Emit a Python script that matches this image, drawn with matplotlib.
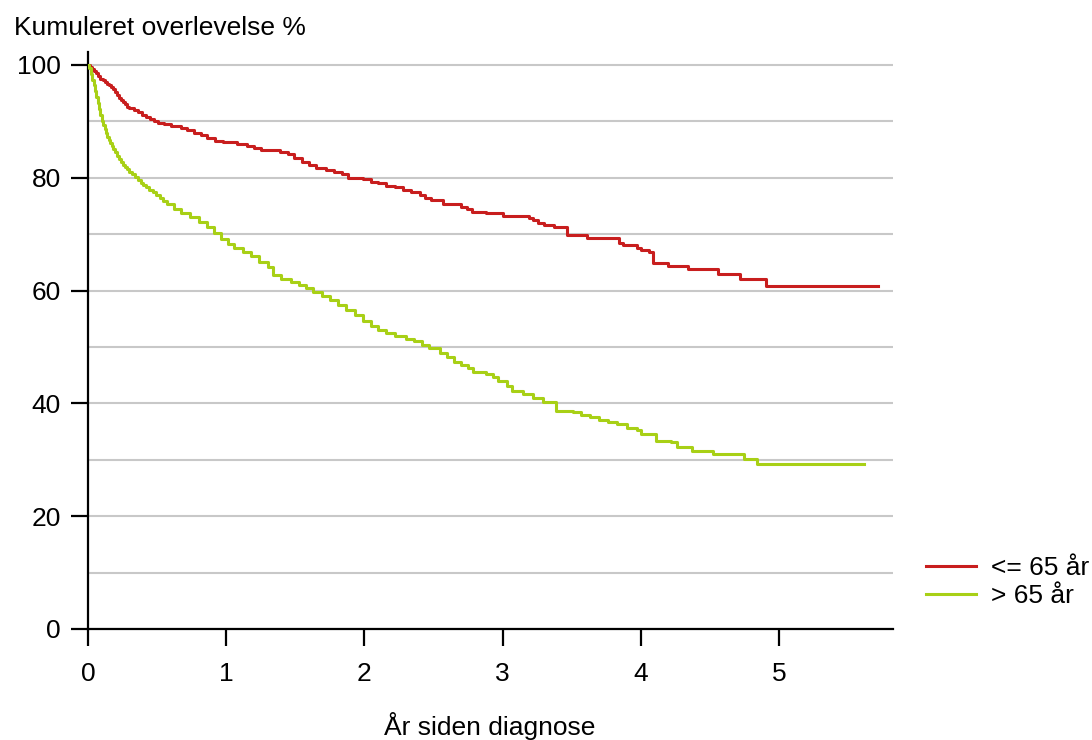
import matplotlib.pyplot as plt
from matplotlib.ticker import MultipleLocator

plt.rcParams['font.family'] = ['Liberation Sans', 'DejaVu Sans']

# Kaplan-Meier estimates
young_t = [0, 0.015, 0.03, 0.045, 0.06, 0.075, 0.09, 0.105, 0.12, 0.135,
           0.15, 0.165, 0.18, 0.195, 0.21, 0.225, 0.24, 0.255, 0.27, 0.285,
           0.30, 0.33, 0.36, 0.39, 0.42, 0.45, 0.48, 0.51, 0.55, 0.60,
           0.67, 0.72, 0.77, 0.82, 0.86, 0.92, 0.98, 1.08, 1.15, 1.20,
           1.25, 1.39, 1.45, 1.49, 1.55, 1.60, 1.65, 1.72, 1.78, 1.84,
           1.88, 1.99, 2.05, 2.10, 2.16, 2.22, 2.28, 2.34, 2.40, 2.44,
           2.48, 2.57, 2.70, 2.74, 2.78, 2.88, 3.00, 3.19, 3.22, 3.26,
           3.30, 3.37, 3.47, 3.61, 3.84, 3.87, 3.97, 4.00, 4.06, 4.09,
           4.20, 4.34, 4.56, 4.72, 4.91, 5.72]
young_s = [100, 99.7, 99.3, 98.9, 98.5, 98.0, 97.6, 97.3, 97.0, 96.7,
           96.4, 96.1, 95.7, 95.2, 94.7, 94.2, 93.8, 93.4, 93.0, 92.6,
           92.3, 92.0, 91.7, 91.2, 90.8, 90.4, 90.0, 89.7, 89.5, 89.1,
           88.8, 88.4, 88.0, 87.5, 87.0, 86.6, 86.3, 86.0, 85.6, 85.2,
           84.9, 84.6, 84.2, 83.5, 82.8, 82.3, 81.8, 81.3, 81.0, 80.6,
           80.0, 79.7, 79.3, 79.0, 78.6, 78.3, 77.9, 77.4, 77.0, 76.5,
           76.0, 75.4, 74.9, 74.4, 74.0, 73.7, 73.3, 72.9, 72.5, 72.0,
           71.6, 71.2, 69.9, 69.4, 68.5, 68.1, 67.6, 67.2, 66.8, 64.9,
           64.4, 63.8, 63.0, 62.1, 60.9, 60.9]

old_t = [0, 0.01, 0.02, 0.03, 0.04, 0.05, 0.06, 0.07, 0.08, 0.09,
         0.10, 0.11, 0.12, 0.13, 0.14, 0.15, 0.16, 0.17, 0.18, 0.195,
         0.21, 0.225, 0.24, 0.255, 0.27, 0.285, 0.30, 0.32, 0.34, 0.36,
         0.38, 0.40, 0.42, 0.445, 0.47, 0.495, 0.52, 0.545, 0.57, 0.62,
         0.67, 0.74, 0.80, 0.86, 0.91, 0.96, 1.01, 1.06, 1.12, 1.18,
         1.24, 1.30, 1.34, 1.40, 1.47, 1.53, 1.58, 1.63, 1.69, 1.75,
         1.81, 1.87, 1.93, 1.99, 2.05, 2.10, 2.16, 2.22, 2.30, 2.36,
         2.42, 2.47, 2.55, 2.60, 2.65, 2.70, 2.75, 2.79, 2.88, 2.93,
         2.97, 3.03, 3.07, 3.15, 3.22, 3.29, 3.39, 3.51, 3.57, 3.63,
         3.70, 3.76, 3.83, 3.90, 3.97, 4.00, 4.11, 4.22, 4.26, 4.37,
         4.52, 4.75, 4.84, 5.62]
old_s = [100, 99.4, 98.4, 97.4, 96.4, 95.4, 94.4, 93.3, 92.2, 91.1,
         90.1, 89.3, 88.6, 87.9, 87.3, 86.7, 86.1, 85.6, 85.1, 84.5,
         83.9, 83.3, 82.8, 82.3, 81.9, 81.5, 81.1, 80.6, 80.1, 79.6,
         79.1, 78.7, 78.3, 77.9, 77.5, 77.0, 76.4, 75.8, 75.3, 74.5,
         73.8, 73.1, 72.2, 71.2, 70.2, 69.2, 68.2, 67.5, 66.9, 66.2,
         65.1, 64.2, 62.7, 62.0, 61.5, 61.0, 60.4, 59.8, 59.1, 58.3,
         57.4, 56.5, 55.6, 54.6, 53.8, 53.1, 52.4, 51.9, 51.5, 51.1,
         50.4, 49.8, 49.0, 48.3, 47.4, 46.8, 46.3, 45.5, 45.2, 44.6,
         44.0, 43.0, 42.2, 41.7, 40.9, 40.2, 38.7, 38.5, 38.0, 37.6,
         37.1, 36.7, 36.3, 35.6, 35.3, 34.6, 33.4, 33.2, 32.2, 31.5,
         31.0, 30.1, 29.2, 29.2]

labels = ['<= 65 år', '> 65 år']
colors = ['#c81e1e', '#a8d016']

fs = 19

fig = plt.figure(figsize=(10.92, 7.4), dpi=100)
ax = fig.add_axes([0.0806, 0.15, 0.737, 0.7797])

ax.plot(young_t, young_s, drawstyle='steps-post', color=colors[0], lw=2.2, label=labels[0], zorder=3)
ax.plot(old_t, old_s, drawstyle='steps-post', color=colors[1], lw=2.2, label=labels[1], zorder=3)

ax.set_xlim(0, 5.825)
ax.set_ylim(0, 102.3)
ax.set_xticks(range(0, 6))
ax.set_yticks(range(0, 101, 20))
ax.yaxis.set_minor_locator(MultipleLocator(10))
ax.grid(True, axis='y', which='both', color='#c8c8c8', lw=1.5, zorder=0)
ax.set_axisbelow(True)

for s in ['top', 'right']:
    ax.spines[s].set_visible(False)
for s in ['left', 'bottom']:
    ax.spines[s].set_linewidth(1.6)

ax.tick_params(which='major', direction='out', length=12.5, width=1.6, labelsize=fs)
ax.tick_params(axis='x', pad=11)
ax.tick_params(axis='y', pad=7)
ax.tick_params(which='minor', length=0)

# axis titles placed as plain figure text, like the original
fig.text(490 / 1092, 1 - 726 / 740, 'År siden diagnose', fontsize=fs, ha='center', va='center')
fig.text(14 / 1092, 1 - 35 / 740, 'Kumuleret overlevelse %', fontsize=fs, ha='left', va='baseline')

fig.legend(loc='center left', bbox_to_anchor=(0.826, 0.213), frameon=False,
           fontsize=fs, handlelength=1.9, handletextpad=0.57, labelspacing=0.16)

fig.savefig('out.png', dpi=100)
